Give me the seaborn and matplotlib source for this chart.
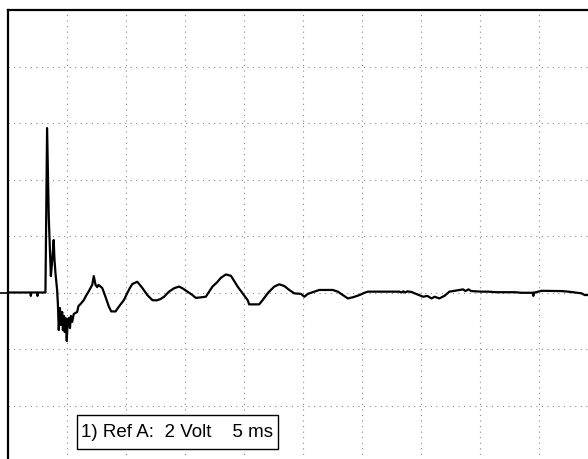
import matplotlib
matplotlib.use("Agg")
import matplotlib.pyplot as plt
import matplotlib.transforms as mtransforms
from matplotlib.patches import Rectangle
import seaborn as sns
import pandas as pd

# ---- data ----
time_ms = [0.00, 1.87, 1.91, 1.96, 2.42, 2.47, 2.51, 3.15, 3.29, 3.43, 3.61, 3.70, 3.85, 3.91,
           4.00, 4.14, 4.21, 4.28, 4.38, 4.46, 4.57, 4.63, 4.72, 4.79, 4.86, 4.96, 5.04, 5.14,
           5.23, 5.31, 5.42, 5.55, 5.84, 5.95, 6.12, 6.40, 6.59, 6.83, 7.12, 7.25, 7.40, 7.54,
           7.65, 7.97, 8.25, 8.53, 8.73, 9.10, 9.38, 9.80, 10.09, 10.31, 10.52, 10.94, 11.10,
           11.37, 11.79, 12.22, 12.58, 12.92, 13.21, 13.63, 14.06, 14.48, 14.77, 15.20, 15.62,
           15.90, 16.18, 16.75, 17.03, 17.32, 17.75, 18.03, 18.46, 18.88, 19.02, 19.45, 19.87,
           20.30, 20.43, 21.28, 21.57, 22.00, 22.13, 22.56, 22.98, 23.41, 23.83, 24.26, 24.83,
           25.11, 25.40, 25.96, 26.38, 27.52, 27.95, 28.37, 28.80, 29.22, 29.79, 30.21, 30.50,
           33.16, 33.33, 33.50, 33.67, 33.84, 34.18, 35.18, 35.54, 35.90, 36.16, 36.56, 36.99,
           37.41, 38.00, 38.58, 38.77, 39.03, 39.28, 40.14, 40.70, 41.41, 42.97, 43.54, 44.52,
           44.53, 44.55, 45.24, 46.94, 47.50, 48.63, 48.89, 49.32, 50.00]
volts = [0.00, 0.00, -0.12, 0.00, 0.00, -0.12, 0.00, 0.00, 5.82, 2.70, 0.58, 1.00, 1.86, 1.22,
         0.69, 0.09, -0.44, -1.33, -0.55, -1.15, -0.69, -1.33, -0.83, -1.40, -0.90, -1.72, -0.97, -0.90,
         -1.26, -0.83, -1.04, -0.76, -0.69, -0.48, -0.41, -0.27, -0.12, 0.05, 0.27, 0.58, 0.27, 0.19,
         0.27, 0.16, -0.16, -0.50, -0.67, -0.67, -0.50, -0.27, -0.02, 0.16, 0.30, 0.38, 0.30,
         0.16, -0.09, -0.27, -0.28, -0.23, -0.15, 0.03, 0.15, 0.21, 0.15, 0.03, -0.09,
         -0.19, -0.18, -0.15, 0.03, 0.21, 0.38, 0.52, 0.64, 0.59, 0.50, 0.21, -0.03,
         -0.27, -0.42, -0.42, -0.27, -0.03, 0.03, 0.21, 0.29, 0.23, 0.09, -0.03, -0.05,
         -0.15, -0.05, 0.03, 0.09, 0.09, 0.03, -0.09, -0.21, -0.17, -0.09, -0.01, 0.03,
         0.03, 0.00, 0.04, 0.00, 0.04, 0.02, -0.15, -0.12, -0.21, -0.15, -0.21, -0.12,
         0.03, 0.07, 0.11, 0.05, 0.11, 0.05, 0.03, 0.03, 0.01, 0.01, -0.01, -0.01,
         -0.12, -0.01, 0.06, 0.05, 0.03, -0.03, -0.09, -0.09, -0.09]

legend_label = "1) Ref A:  2 Volt    5 ms"
ms_per_div = 5
volt_per_div = 2

df = pd.DataFrame({"t": time_ms, "v": volts})

sns.set_style("white")
plt.rcParams["font.family"] = ["Liberation Sans", "DejaVu Sans"]

W, H = 588, 459
fig = plt.figure(figsize=(W / 100, H / 100), dpi=100)
fig.patch.set_facecolor("white")

left_px, top_px = 8.3, 10.0
ax_w_px, ax_h_px = 10 * 58.95, 8 * 56.5
ax = fig.add_axes([left_px / W, 1 - (top_px + ax_h_px) / H, ax_w_px / W, ax_h_px / H])

ax.set_xlim(0, 10 * ms_per_div)
ax.set_ylim(-3 * volt_per_div, 5 * volt_per_div)

# dotted graticule
for k in range(1, 10):
    ax.axvline(k * ms_per_div, color="#8a8a8a", lw=0.8, ls=(0, (1, 4)), zorder=1)
for k in range(-2, 5):
    ax.axhline(k * volt_per_div, color="#8a8a8a", lw=0.8, ls=(0, (1, 4)), zorder=1)

sns.lineplot(data=df, x="t", y="v", estimator=None, sort=False, color="black",
             lw=1.6, ax=ax, zorder=3)

# channel marker on the left at zero level
trans = mtransforms.blended_transform_factory(ax.transAxes, ax.transData)
ax.plot([-left_px / ax_w_px, 0], [0, 0], color="black", lw=1.2, transform=trans,
        clip_on=False, zorder=4)

for s in ["right", "bottom"]:
    ax.spines[s].set_visible(False)
for s in ["left", "top"]:
    ax.spines[s].set_color("black")
    ax.spines[s].set_linewidth(1.6)
ax.set_xticks([])
ax.set_yticks([])
ax.set_xlabel("")
ax.set_ylabel("")

# legend box
bx0, by0, bx1, by1 = 77, 415, 278, 449
fig.patches.append(Rectangle((bx0 / W, 1 - by1 / H), (bx1 - bx0) / W, (by1 - by0) / H,
                             transform=fig.transFigure, facecolor="white",
                             edgecolor="black", lw=1.0, zorder=5))
fig.text((bx0 + 4.5) / W, 1 - ((by0 + by1) / 2 + 0.5) / H, legend_label, fontsize=13.5,
         ha="left", va="center", color="black", zorder=6)

fig.savefig("out.png", dpi=100, facecolor="white")
